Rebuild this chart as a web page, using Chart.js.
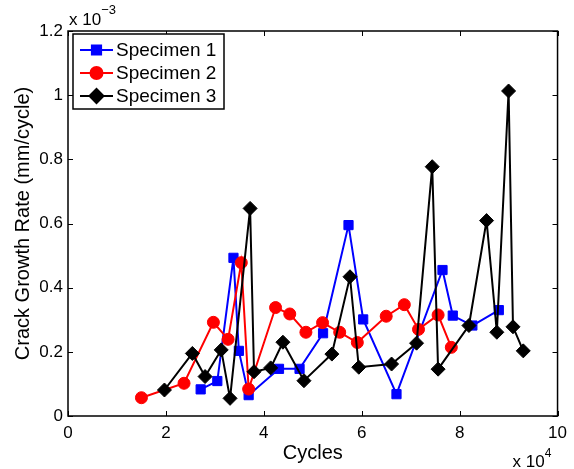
<!DOCTYPE html>
<html>
<head>
<meta charset="utf-8">
<script src="https://cdn.jsdelivr.net/npm/chart.js@4.4.1/dist/chart.umd.min.js"></script>
<style>
  html, body { margin: 0; padding: 0; background: #fff; }
  #wrap { width: 574px; height: 469px; }
</style>
</head>
<body>
<div id="wrap"><canvas id="crack-chart" width="574" height="469"></canvas></div>
<script>
// cycles in units of 1e4, rate in units of 1e-3 mm/cycle
const spec1Cycles = [2.71, 3.05, 3.38, 3.49, 3.69, 4.31, 4.73, 5.21, 5.73, 6.03, 6.71, 7.65, 7.86, 8.26, 8.80];
const spec1Rate   = [0.083, 0.109, 0.493, 0.203, 0.065, 0.147, 0.147, 0.258, 0.595, 0.301, 0.068, 0.455, 0.313, 0.282, 0.330];

const spec2Cycles = [1.50, 2.37, 2.97, 3.27, 3.54, 3.69, 4.24, 4.53, 4.86, 5.20, 5.55, 5.91, 6.50, 6.87, 7.16, 7.56, 7.83];
const spec2Rate   = [0.057, 0.102, 0.292, 0.239, 0.478, 0.084, 0.338, 0.318, 0.261, 0.291, 0.261, 0.229, 0.311, 0.347, 0.270, 0.315, 0.214];

const spec3Cycles = [1.97, 2.54, 2.80, 3.13, 3.31, 3.72, 3.80, 4.14, 4.39, 4.82, 5.39, 5.76, 5.94, 6.61, 7.12, 7.44, 7.56, 8.19, 8.55, 8.76, 9.00, 9.09, 9.30];
const spec3Rate   = [0.081, 0.195, 0.123, 0.206, 0.055, 0.647, 0.138, 0.150, 0.230, 0.110, 0.193, 0.434, 0.152, 0.162, 0.227, 0.777, 0.146, 0.282, 0.609, 0.261, 1.013, 0.278, 0.203];

const xTicks = [0, 2, 4, 6, 8, 10];
const yTicks = [0, 0.2, 0.4, 0.6, 0.8, 1, 1.2];

const FONT = "'Liberation Sans', Arial, sans-serif";
Chart.defaults.font.family = FONT;
Chart.defaults.font.size = 17;
Chart.defaults.color = "#000";

function toPoints(xs, ys) {
  return xs.map((x, i) => ({ x: x, y: ys[i] }));
}

const series = [
  { label: "Specimen 1", xs: spec1Cycles, ys: spec1Rate, color: "#0000ff", style: "rect", radius: 6.5, order: 2 },
  { label: "Specimen 2", xs: spec2Cycles, ys: spec2Rate, color: "#ff0000", style: "circle", radius: 6, order: 1 },
  { label: "Specimen 3", xs: spec3Cycles, ys: spec3Rate, color: "#000000", style: "rectRot", radius: 7, order: 0 }
];

// box around the axes with inward ticks on all four sides
const boxAxes = {
  id: "boxAxes",
  afterDatasetsDraw(chart) {
    const { ctx, chartArea: a, scales } = chart;
    ctx.save();
    ctx.strokeStyle = "#000";
    ctx.lineWidth = 1;
    const len = 5;
    ctx.beginPath();
    xTicks.forEach(v => {
      const px = Math.round(scales.x.getPixelForValue(v)) + 0.5;
      ctx.moveTo(px, a.bottom); ctx.lineTo(px, a.bottom - len);
      ctx.moveTo(px, a.top); ctx.lineTo(px, a.top + len);
    });
    yTicks.forEach(v => {
      const py = Math.round(scales.y.getPixelForValue(v)) + 0.5;
      ctx.moveTo(a.left, py); ctx.lineTo(a.left + len, py);
      ctx.moveTo(a.right, py); ctx.lineTo(a.right - len, py);
    });
    ctx.stroke();
    ctx.lineWidth = 1.5;
    ctx.strokeRect(a.left, a.top, a.right - a.left, a.bottom - a.top);

    // exponent labels
    ctx.fillStyle = "#000";
    ctx.textBaseline = "alphabetic";
    ctx.textAlign = "left";
    ctx.font = "17px " + FONT;
    ctx.fillText("x 10", a.left + 1, 25);
    let w = ctx.measureText("x 10").width;
    ctx.font = "13px " + FONT;
    ctx.fillText("\u22123", a.left + 1 + w, 14);

    ctx.font = "17px " + FONT;
    ctx.fillText("x 10", a.right - 45, 467);
    w = ctx.measureText("x 10").width;
    ctx.font = "12px " + FONT;
    ctx.fillText("4", a.right - 45 + w, 457);
    ctx.restore();
  }
};

// legend drawn inside the axes, top left
const insideLegend = {
  id: "insideLegend",
  afterDraw(chart) {
    const { ctx, chartArea: a } = chart;
    const x0 = a.left + 5, y0 = a.top + 3, bw = 151, bh = 75;
    ctx.save();
    ctx.fillStyle = "#fff";
    ctx.fillRect(x0, y0, bw, bh);
    ctx.strokeStyle = "#000";
    ctx.lineWidth = 1.5;
    ctx.strokeRect(x0, y0, bw, bh);
    ctx.font = "19px " + FONT;
    ctx.textBaseline = "middle";
    ctx.textAlign = "left";
    series.forEach((s, i) => {
      const cy = y0 + 16 + i * 23;
      ctx.strokeStyle = s.color;
      ctx.lineWidth = 2;
      ctx.beginPath();
      ctx.moveTo(x0 + 7, cy);
      ctx.lineTo(x0 + 40, cy);
      ctx.stroke();
      ctx.fillStyle = s.color;
      Chart.helpers.drawPoint(ctx, { pointStyle: s.style, radius: s.radius, borderWidth: 1 }, x0 + 23.5, cy);
      ctx.fill();
      ctx.fillStyle = "#000";
      ctx.fillText(s.label, x0 + 43, cy + 1);
    });
    ctx.restore();
  }
};

new Chart(document.getElementById("crack-chart"), {
  type: "scatter",
  data: {
    datasets: series.map(s => ({
      label: s.label,
      data: toPoints(s.xs, s.ys),
      showLine: true,
      borderColor: s.color,
      backgroundColor: s.color,
      borderWidth: 2,
      pointStyle: s.style,
      pointRadius: s.radius,
      pointBorderWidth: 1,
      pointHoverRadius: s.radius,
      order: s.order
    }))
  },
  options: {
    responsive: false,
    animation: false,
    events: [],
    layout: { padding: { left: 8, top: 31, right: 16, bottom: 0 } },
    plugins: { legend: { display: false }, tooltip: { enabled: false } },
    scales: {
      x: {
        type: "linear",
        min: 0, max: 10,
        afterBuildTicks: s => { s.ticks = xTicks.map(v => ({ value: v })); },
        afterFit: s => { s.height = 53; },
        grid: { display: false, drawTicks: false },
        border: { display: false },
        ticks: { padding: 7, maxRotation: 0, callback: v => String(v) },
        title: { display: true, text: "Cycles", font: { size: 20 }, padding: { top: 0, bottom: 4 } }
      },
      y: {
        min: 0, max: 1.2,
        afterBuildTicks: s => { s.ticks = yTicks.map(v => ({ value: v })); },
        afterFit: s => { s.width = 60; },
        grid: { display: false, drawTicks: false },
        border: { display: false },
        ticks: { padding: 5, callback: v => String(Math.round(v * 10) / 10) },
        title: { display: true, text: "Crack Growth Rate (mm/cycle)", font: { size: 20 }, padding: { top: 3, bottom: 2 } }
      }
    }
  },
  plugins: [boxAxes, insideLegend]
});
</script>
</body>
</html>
